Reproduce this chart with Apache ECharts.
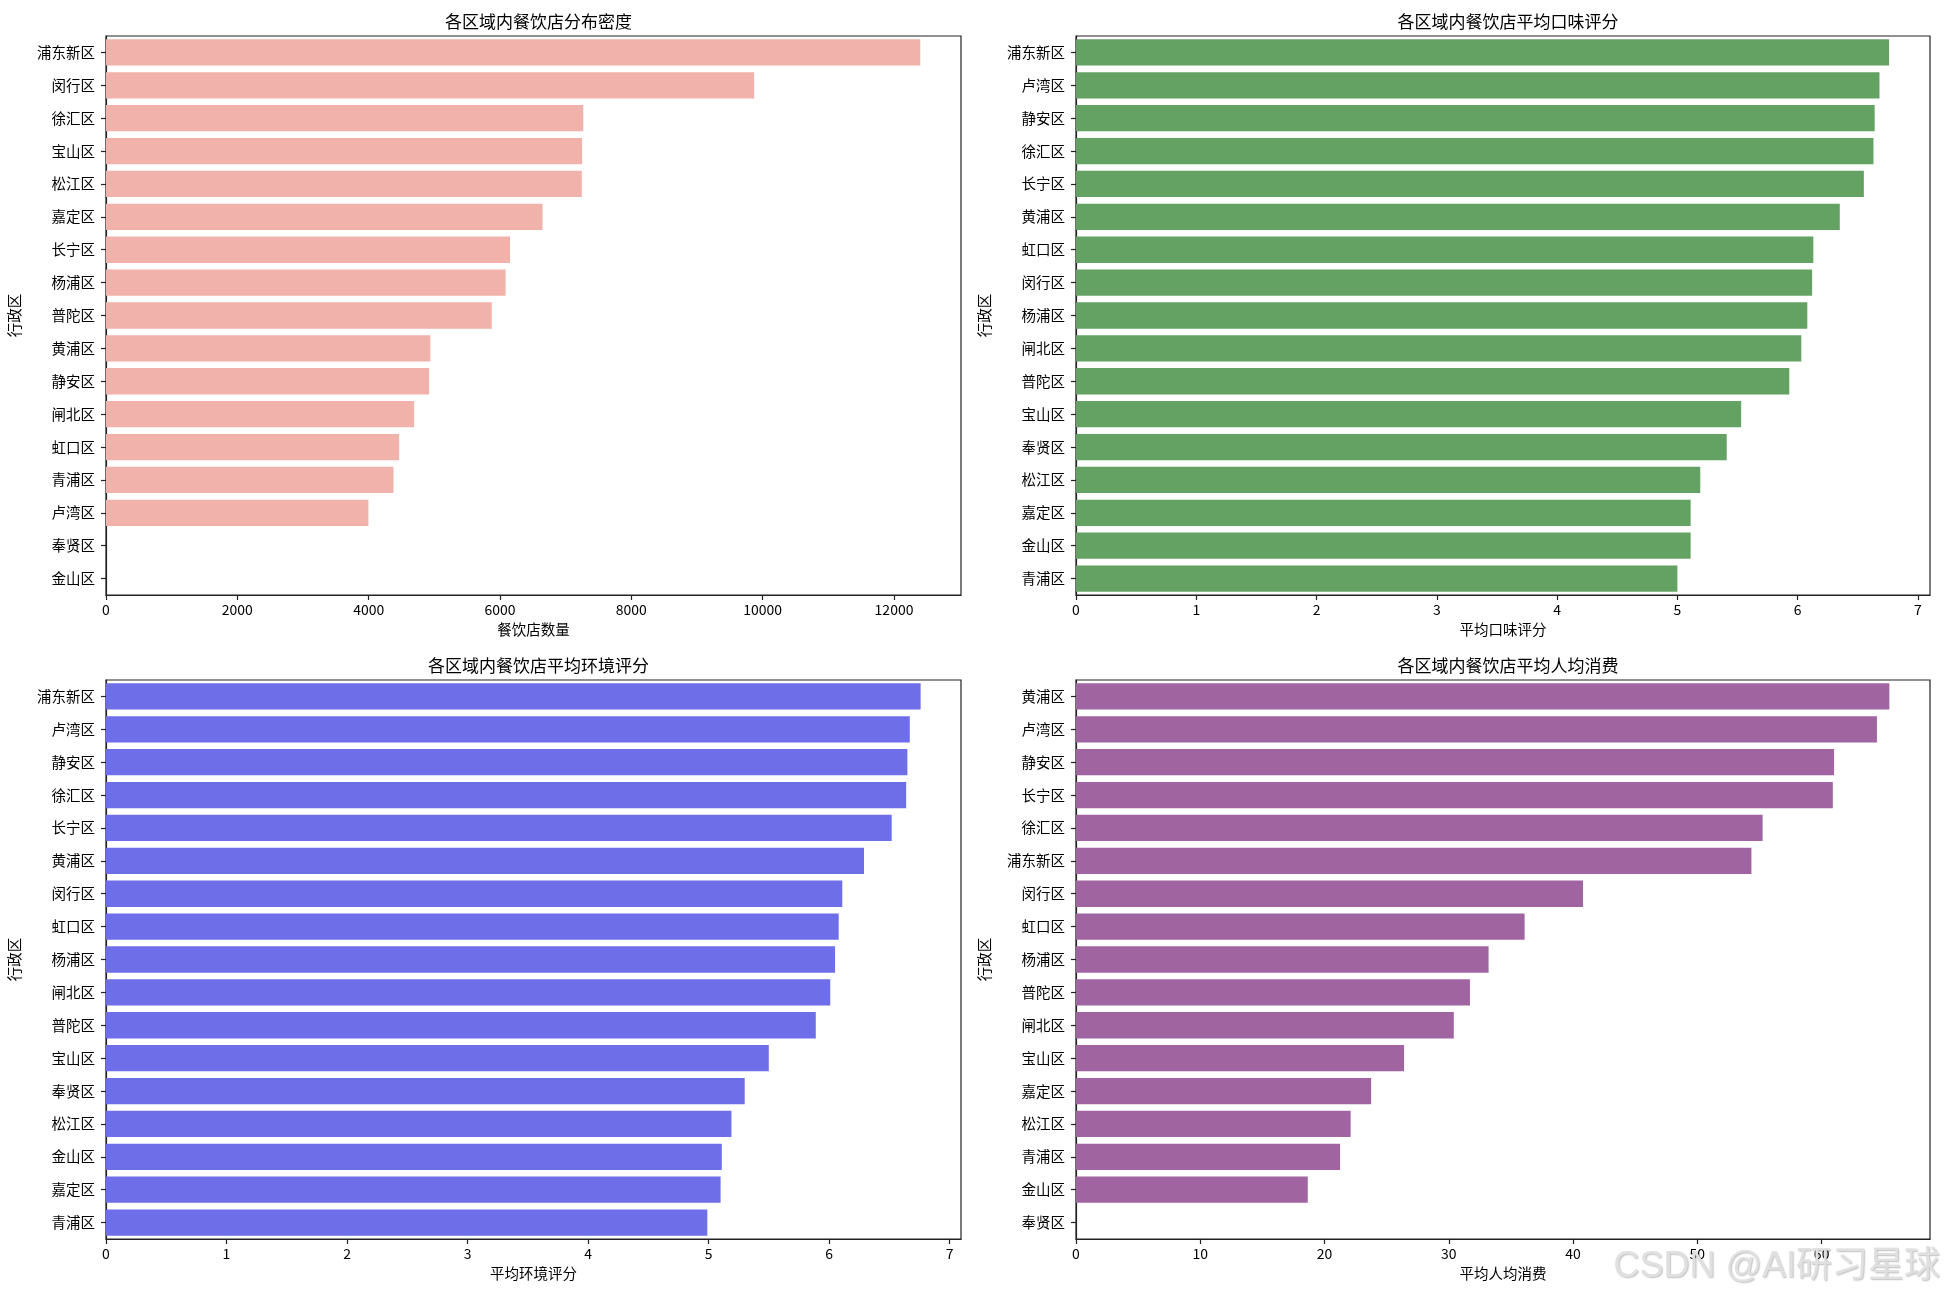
<!DOCTYPE html>
<html><head><meta charset="utf-8">
<script src="https://cdn.jsdelivr.net/npm/echarts@6/dist/echarts.min.js"></script>
<style>html,body{margin:0;padding:0;background:#fff}#c{width:1944px;height:1298px}</style>
</head><body><div id="c"></div>
<script>
// ---- data ----
const densityDistricts = ['浦东新区','闵行区','徐汇区','宝山区','松江区','嘉定区','长宁区','杨浦区','普陀区','黄浦区','静安区','闸北区','虹口区','青浦区','卢湾区','奉贤区','金山区'];
const densityCounts = [12400, 9870, 7268, 7250, 7245, 6648, 6152, 6085, 5875, 4940, 4921, 4692, 4464, 4378, 3996, null, null];
const densityTicks = [0, 2000, 4000, 6000, 8000, 10000, 12000];

const tasteDistricts = ['浦东新区','卢湾区','静安区','徐汇区','长宁区','黄浦区','虹口区','闵行区','杨浦区','闸北区','普陀区','宝山区','奉贤区','松江区','嘉定区','金山区','青浦区'];
const tasteScores = [6.76, 6.68, 6.64, 6.63, 6.55, 6.35, 6.13, 6.12, 6.08, 6.03, 5.93, 5.53, 5.41, 5.19, 5.11, 5.11, 5.00];
const tasteTicks = [0, 1, 2, 3, 4, 5, 6, 7];

const envDistricts = ['浦东新区','卢湾区','静安区','徐汇区','长宁区','黄浦区','闵行区','虹口区','杨浦区','闸北区','普陀区','宝山区','奉贤区','松江区','金山区','嘉定区','青浦区'];
const envScores = [6.76, 6.67, 6.65, 6.64, 6.52, 6.29, 6.11, 6.08, 6.05, 6.01, 5.89, 5.50, 5.30, 5.19, 5.11, 5.10, 4.99];
const envTicks = [0, 1, 2, 3, 4, 5, 6, 7];

const costDistricts = ['黄浦区','卢湾区','静安区','长宁区','徐汇区','浦东新区','闵行区','虹口区','杨浦区','普陀区','闸北区','宝山区','嘉定区','松江区','青浦区','金山区','奉贤区'];
const costValues = [65.45, 64.45, 61.0, 60.9, 55.25, 54.35, 40.8, 36.1, 33.2, 31.7, 30.4, 26.4, 23.75, 22.1, 21.25, 18.65, null];
const costTicks = [0, 10, 20, 30, 40, 50, 60];

const titles = ['各区域内餐饮店分布密度','各区域内餐饮店平均口味评分','各区域内餐饮店平均环境评分','各区域内餐饮店平均人均消费'];
const xNames = ['餐饮店数量','平均口味评分','平均环境评分','平均人均消费'];
const yName = '行政区';
const watermark = 'CSDN @AI研习星球';

// ---- layout / style ----
const FONT = '"Noto Sans CJK SC", "Noto Sans", sans-serif';
const grids = [
  {left:106, top:36, width:855, height:559},
  {left:1076, top:36, width:854, height:559},
  {left:106, top:680, width:855, height:559},
  {left:1076, top:680, width:854, height:559}
];
const panels = [
  {cats: densityDistricts, vals: densityCounts, ticks: densityTicks, color:'#f0b2aa', max:13020},
  {cats: tasteDistricts, vals: tasteScores, ticks: tasteTicks, color:'#64a264', max:7.1},
  {cats: envDistricts, vals: envScores, ticks: envTicks, color:'#6e6ee8', max:7.095},
  {cats: costDistricts, vals: costValues, ticks: costTicks, color:'#a064a0', max:68.72}
];

const chart = echarts.init(document.getElementById('c'));
const option = {
  backgroundColor:'#fff',
  animation:false,
  textStyle:{fontFamily:FONT},
  title: grids.map((g,i)=>({
    text: titles[i], left: g.left + g.width/2, top: g.top - 28, textAlign:'center',
    textStyle:{fontFamily:FONT, fontSize:17, fontWeight:'normal', color:'#000'}
  })),
  grid: grids.map(g=>Object.assign({show:true, borderColor:'#222', borderWidth:1.2, containLabel:false}, g)),
  xAxis: panels.map((p,i)=>({
    type:'value', gridIndex:i, min:0, max:p.max,
    name: xNames[i], nameLocation:'middle', nameGap:27,
    nameTextStyle:{fontFamily:FONT, fontSize:14.5, color:'#000'},
    axisLine:{show:true, lineStyle:{color:'#222', width:1.2}},
    axisTick:{show:true, length:5, customValues:p.ticks, lineStyle:{color:'#222', width:1.2}},
    splitLine:{show:false},
    axisLabel:{margin:8, fontFamily:FONT, fontSize:14, color:'#000', customValues:p.ticks,
      formatter: v => String(v)}
  })),
  yAxis: panels.map((p,i)=>({
    type:'category', gridIndex:i, data:p.cats, inverse:true,
    name: yName, nameLocation:'middle', nameGap:84, nameRotate:90,
    nameTextStyle:{fontFamily:FONT, fontSize:14.5, color:'#000'},
    axisLine:{show:true, lineStyle:{color:'#222', width:1.2}},
    axisTick:{show:true, alignWithLabel:true, length:5, lineStyle:{color:'#222', width:1.2}},
    splitLine:{show:false},
    axisLabel:{margin:11, fontFamily:FONT, fontSize:14.5, color:'#000'}
  })),
  series: panels.map((p,i)=>({
    type:'bar', xAxisIndex:i, yAxisIndex:i, data:p.vals, barCategoryGap:'20%',
    itemStyle:{color:p.color}
  })),
  graphic:[{
    type:'text', right:4, top:1249, z:100,
    style:{text:watermark, font:'36px "Liberation Sans", "Noto Sans CJK SC", sans-serif',
      fill:'#e0e0e0', textShadowColor:'rgba(0,0,0,0.25)', textShadowBlur:1.5, textShadowOffsetX:1, textShadowOffsetY:1}
  }]
};
chart.setOption(option);
</script></body></html>
